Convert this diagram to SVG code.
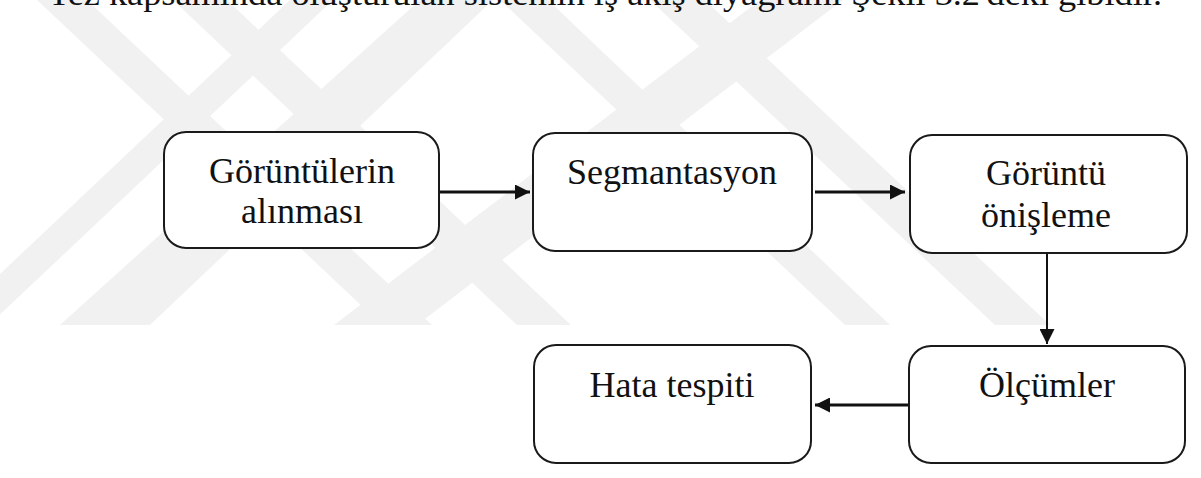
<svg xmlns="http://www.w3.org/2000/svg" width="1201" height="478" viewBox="0 0 1201 478">
  <style>
    .box { fill: #ffffff; stroke: #1a1a1a; stroke-width: 2; }
    .lbl { font-family: "Liberation Serif", "Times New Roman", serif; font-size: 36px; fill: #111111; text-anchor: middle; }
    .top { font-family: "Liberation Serif", "Times New Roman", serif; font-size: 33px; fill: #111111; }
    .edge { stroke: #111111; stroke-width: 3; fill: none; }
    .edgev { stroke: #111111; stroke-width: 2; fill: none; }
    .wm { fill: #f1f1f1; }
  </style>
  <defs>
    <marker id="arrow" viewBox="0 0 10 10" refX="10" refY="5" markerUnits="userSpaceOnUse" markerWidth="17" markerHeight="15" orient="auto">
      <path d="M0,0 L10,5 L0,10 z" fill="#111111"/>
    </marker>
  </defs>
  <rect width="1201" height="478" fill="#ffffff"/>
  <g id="watermark">
    <polygon class="wm" points="37,0 87,0 432,325 382,325"/>
    <polygon class="wm" points="173,0 227,0 571,325 517,325"/>
    <polygon class="wm" points="290,0 333,0 -11,325 -54,325"/>
    <polygon class="wm" points="420,0 493,0 150,325 60,325"/>
    <polygon class="wm" points="500,0 548,0 890,325 845,325"/>
    <polygon class="wm" points="650,0 705,0 1050,325 995,325"/>
    <polygon class="wm" points="760,0 843,0 417,325 334,325"/>
  </g>
  <text class="top" x="48" y="5" textLength="1114" lengthAdjust="spacingAndGlyphs">Tez kapsamında oluşturulan sistemin iş akış diyagramı Şekil 3.2'deki gibidir.</text>
  <g id="connectors">
    <line class="edge" x1="439" y1="192" x2="530" y2="192" marker-end="url(#arrow)"/>
    <line class="edge" x1="815" y1="192" x2="905" y2="192" marker-end="url(#arrow)"/>
    <line class="edgev" x1="1047" y1="253" x2="1047" y2="344" marker-end="url(#arrow)"/>
    <line class="edge" x1="908" y1="405" x2="815" y2="405" marker-end="url(#arrow)"/>
  </g>
  <g id="node-goruntulerin">
    <rect class="box" x="164" y="132" width="275" height="116" rx="22"/>
    <text class="lbl" x="302" y="183">Görüntülerin</text>
    <text class="lbl" x="302" y="223">alınması</text>
  </g>
  <g id="node-segmantasyon">
    <rect class="box" x="533" y="133" width="279" height="118" rx="22"/>
    <text class="lbl" x="672" y="184">Segmantasyon</text>
  </g>
  <g id="node-onisleme">
    <rect class="box" x="910" y="135" width="277" height="118" rx="22"/>
    <text class="lbl" x="1046" y="185">Görüntü</text>
    <text class="lbl" x="1046" y="227">önişleme</text>
  </g>
  <g id="node-olcumler">
    <rect class="box" x="909" y="346" width="276" height="117" rx="22"/>
    <text class="lbl" x="1047" y="397">Ölçümler</text>
  </g>
  <g id="node-hata">
    <rect class="box" x="534" y="345" width="277" height="118" rx="22"/>
    <text class="lbl" x="672" y="397">Hata tespiti</text>
  </g>
</svg>
